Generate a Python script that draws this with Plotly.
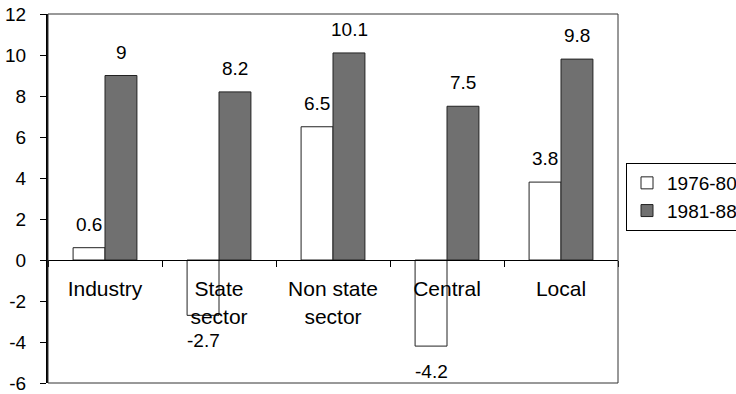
import plotly.graph_objects as go

categories = ["Industry", "State<br>sector", "Non state<br>sector", "Central", "Local"]
series_names = ["1976-80", "1981-88"]
values_1976_80 = [0.6, -2.7, 6.5, -4.2, 3.8]
values_1981_88 = [9, 8.2, 10.1, 7.5, 9.8]
y_ticks = [-6, -4, -2, 0, 2, 4, 6, 8, 10, 12]
y_tick_labels = [str(t) for t in y_ticks]

FONT = "Arial, Liberation Sans, Helvetica, sans-serif"
FS = 19
W, H = 736, 394

fig = go.Figure()
fig.add_trace(go.Bar(name=series_names[0], x=categories, y=values_1976_80,
                     marker=dict(color="white", line=dict(color="#222", width=1))))
fig.add_trace(go.Bar(name=series_names[1], x=categories, y=values_1981_88,
                     marker=dict(color="#707070", line=dict(color="#222", width=1))))

annotations = []
for vals, xs in ((values_1976_80, -16), (values_1981_88, 16)):
    for c, v in zip(categories, vals):
        annotations.append(dict(
            x=c, y=v, xref="x", yref="y", text=f"{v:g}", showarrow=False,
            xshift=xs, yshift=11 if v >= 0 else -13,
            yanchor="bottom" if v >= 0 else "top",
            font=dict(family=FONT, size=FS, color="black")))

fig.update_layout(
    width=W, height=H,
    margin=dict(l=48, r=118, t=14, b=11, autoexpand=False),
    paper_bgcolor="white", plot_bgcolor="white",
    font=dict(family=FONT, size=FS, color="black"),
    barmode="group", bargap=0.44, bargroupgap=0,
    showlegend=True,
    legend=dict(xref="container", yref="container", x=626/W, y=1 - 163/H,
                xanchor="left", yanchor="top",
                bordercolor="black", borderwidth=1,
                font=dict(family=FONT, size=FS, color="black"),
                itemwidth=30, tracegroupgap=0),
    annotations=annotations,
    shapes=[dict(type="rect", xref="paper", yref="paper", x0=0, x1=1, y0=0, y1=1,
                 line=dict(color="#333", width=1), layer="above")],
)
fig.update_xaxes(
    anchor="free", position=6/18, showline=True, linecolor="black", linewidth=1,
    ticks="outside", tickson="boundaries", ticklen=6, tickcolor="black",
    showgrid=False, zeroline=False, ticklabelstandoff=10, automargin=False,
    tickfont=dict(family=FONT, size=21, color="black"),
)
fig.update_yaxes(
    range=[-6, 12], tickvals=y_ticks, ticktext=y_tick_labels,
    showline=True, linecolor="black", linewidth=2, automargin=False,
    ticks="outside", ticklen=6, tickcolor="black", showgrid=False, zeroline=False,
    ticklabelstandoff=10, tickfont=dict(family=FONT, size=FS, color="black"),
)

fig.write_html("out.html", config={"displayModeBar": False},
               post_script="document.body.style.margin='0';document.body.style.overflow='hidden';")
